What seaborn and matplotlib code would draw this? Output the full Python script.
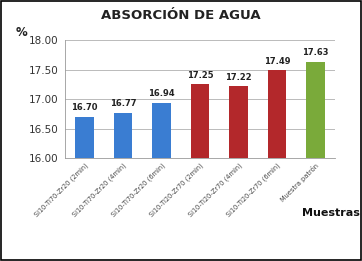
import matplotlib.pyplot as plt
import seaborn as sns
import pandas as pd
from matplotlib.patches import Rectangle

muestras = ['Si10-Ti70-Zr20 (2min)', 'Si10-Ti70-Zr20 (4min)', 'Si10-Ti70-Zr20 (6min)',
            'Si10-Ti20-Zr70 (2min)', 'Si10-Ti20-Zr70 (4min)', 'Si10-Ti20-Zr70 (6min)',
            'Muestra patrón']
absorcion = [16.70, 16.77, 16.94, 17.25, 17.22, 17.49, 17.63]
colores = ['#3a7dd2', '#3a7dd2', '#3a7dd2', '#b3282b', '#b3282b', '#b3282b', '#7aaa3a']

df = pd.DataFrame({'muestra': muestras, 'valor': absorcion})

sns.set_style('white')
plt.rcParams['font.family'] = ['DejaVu Sans']

fig = plt.figure(figsize=(3.62, 2.61), dpi=100)
ax = fig.add_axes([0.18, 0.395, 0.745, 0.45])

sns.barplot(data=df, x='muestra', y='valor', hue='muestra', palette=colores,
            saturation=1, legend=False, width=0.48, ax=ax, edgecolor='none')

ax.set_ylim(16.0, 18.0)
ax.set_yticks([16.0, 16.5, 17.0, 17.5, 18.0])
ax.set_yticklabels(['16.00', '16.50', '17.00', '17.50', '18.00'], fontsize=7.5, color='#333333')
ax.grid(axis='y', color='#b0b0b0', linewidth=0.6)
ax.set_axisbelow(True)
ax.tick_params(axis='y', length=3, color='#999999', pad=2)
ax.tick_params(axis='x', length=0, pad=3)
ax.set_xticks(range(len(muestras)))
ax.set_xticklabels(muestras, rotation=45, ha='right', rotation_mode='anchor',
                   fontsize=4.8, color='#444444')
ax.set_xlabel('')
ax.set_ylabel('')
for s in ['top', 'right']:
    ax.spines[s].set_visible(False)
ax.spines['left'].set_color('#999999')
ax.spines['bottom'].set_color('#999999')
ax.spines['left'].set_linewidth(0.6)
ax.spines['bottom'].set_linewidth(0.6)

for i, v in enumerate(absorcion):
    ax.text(i, v + 0.08, f'{v:.2f}', ha='center', va='bottom', fontsize=6,
            fontweight='bold', color='#222222')

fig.text(0.5, 0.94, 'ABSORCIÓN DE AGUA', ha='center', va='center',
         fontsize=9.5, fontweight='bold', color='#222222')
fig.text(0.06, 0.875, '%', ha='center', va='center', fontsize=8.5,
         fontweight='bold', color='#222222')
fig.text(0.915, 0.185, 'Muestras', ha='center', va='center', fontsize=8,
         fontweight='bold', color='#111111')

fig.patches.append(Rectangle((0.003, 0.004), 0.994, 0.992, transform=fig.transFigure,
                             fill=False, edgecolor='black', linewidth=1.2))

fig.savefig('out.png', dpi=100)
